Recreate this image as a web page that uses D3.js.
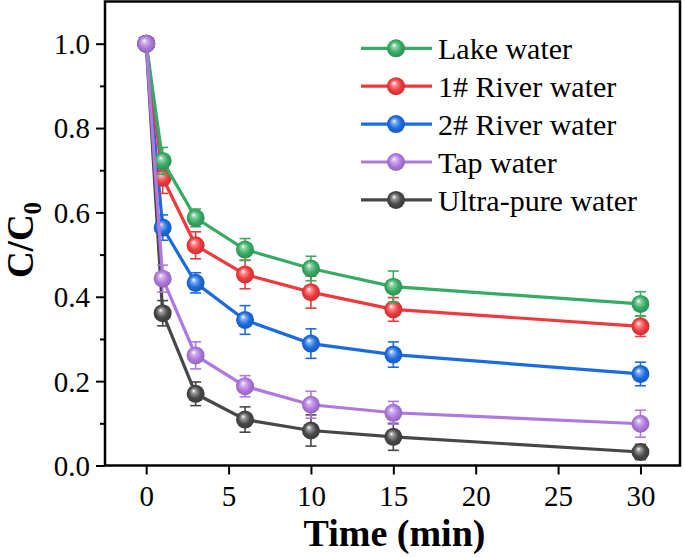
<!DOCTYPE html>
<html><head><meta charset="utf-8">
<script src="https://cdn.jsdelivr.net/npm/d3@7"></script>
<style>
html,body{margin:0;padding:0;background:#fff;}
svg{display:block;}
text{font-family:"Liberation Serif","Times New Roman",serif;}
</style></head>
<body>
<svg id="chart" width="685" height="558"></svg>
<script>
const times = [0, 1, 3, 6, 10, 15, 30];
const seriesNames = ["Lake water", "1# River water", "2# River water", "Tap water", "Ultra-pure water"];
const seriesColors = ["#35AB63", "#EF3A3D", "#1B6BE0", "#AE78DE", "#474747"];
const lakeVals   = [1.0, 0.722, 0.587, 0.512, 0.467, 0.424, 0.383];
const lakeErr    = [0, 0.032, 0.021, 0.026, 0.029, 0.037, 0.029];
const river1Vals = [1.0, 0.682, 0.522, 0.453, 0.411, 0.370, 0.330];
const river1Err  = [0, 0.037, 0.032, 0.034, 0.038, 0.028, 0.024];
const river2Vals = [1.0, 0.564, 0.433, 0.345, 0.289, 0.263, 0.217];
const river2Err  = [0, 0.030, 0.024, 0.034, 0.035, 0.030, 0.028];
const tapVals    = [1.0, 0.443, 0.261, 0.188, 0.144, 0.125, 0.099];
const tapErr     = [0, 0.032, 0.032, 0.025, 0.032, 0.027, 0.032];
const pureVals   = [1.0, 0.361, 0.170, 0.109, 0.083, 0.068, 0.032];
const pureErr    = [0, 0.030, 0.028, 0.030, 0.037, 0.032, 0.018];
const xTicks = [0, 5, 10, 15, 20, 25, 30];
const yTicks = [0.0, 0.2, 0.4, 0.6, 0.8, 1.0];
const yMinorTicks = [0.1, 0.3, 0.5, 0.7, 0.9];

const series = [
  {name: seriesNames[0], color: seriesColors[0], vals: lakeVals, err: lakeErr},
  {name: seriesNames[1], color: seriesColors[1], vals: river1Vals, err: river1Err},
  {name: seriesNames[2], color: seriesColors[2], vals: river2Vals, err: river2Err},
  {name: seriesNames[3], color: seriesColors[3], vals: tapVals, err: tapErr},
  {name: seriesNames[4], color: seriesColors[4], vals: pureVals, err: pureErr}
];
// drawing order (last on top)
const drawOrder = [4, 2, 1, 0, 3];

const L = 105, R = 680, T = 1.5, B = 465.5;
const svg = d3.select("#chart");
const x = d3.scaleLinear().domain([-2.5, 32.4]).range([L, R]);
const y = d3.scaleLinear().domain([0, 1.1]).range([B, T]);

// gradients
const defs = svg.append("defs");
series.forEach((s, i) => {
  const g = defs.append("radialGradient").attr("id", "g" + i)
    .attr("cx", "50%").attr("cy", "50%").attr("r", "55%")
    .attr("fx", "38%").attr("fy", "32%");
  const c = d3.color(s.color);
  g.append("stop").attr("offset", "0%").attr("stop-color", "#ffffff");
  g.append("stop").attr("offset", "22%").attr("stop-color", d3.interpolateRgb(s.color, "#fff")(0.45));
  g.append("stop").attr("offset", "60%").attr("stop-color", s.color);
  g.append("stop").attr("offset", "100%").attr("stop-color", c.darker(0.6).formatHex());
});

// axes
const yAxis = d3.axisLeft(y).tickValues(yTicks).tickSize(9).tickSizeOuter(0).tickPadding(6)
  .tickFormat(d3.format(".1f"));
const gy = svg.append("g").attr("transform", `translate(${L},0)`).call(yAxis);
gy.select(".domain").remove();
gy.selectAll("line").attr("stroke", "#000").attr("stroke-width", 2);
gy.selectAll("text").attr("font-size", 29).attr("fill", "#000").attr("dy", "0.34em");

const yMinor = d3.axisLeft(y).tickValues(yMinorTicks).tickSize(5).tickSizeOuter(0).tickFormat("");
const gym = svg.append("g").attr("transform", `translate(${L},0)`).call(yMinor);
gym.select(".domain").remove();
gym.selectAll("line").attr("stroke", "#000").attr("stroke-width", 2);

const xAxis = d3.axisBottom(x).tickValues(xTicks).tickSize(9).tickSizeOuter(0).tickPadding(11);
const gx = svg.append("g").attr("transform", `translate(0,${B})`).call(xAxis);
gx.select(".domain").remove();
gx.selectAll("line").attr("stroke", "#000").attr("stroke-width", 2);
gx.selectAll("text").attr("font-size", 29).attr("fill", "#000");

// frame
svg.append("rect").attr("x", L).attr("y", T).attr("width", R - L).attr("height", B - T)
  .attr("fill", "none").attr("stroke", "#000").attr("stroke-width", 2.5);

// axis titles
svg.append("text").attr("x", (L + R) / 2 + 2).attr("y", 546)
  .attr("text-anchor", "middle").attr("font-size", 38).attr("font-weight", "bold")
  .text("Time (min)");
const yt = svg.append("text").attr("transform", "translate(33,240) rotate(-90)")
  .attr("text-anchor", "middle").attr("font-size", 37).attr("font-weight", "bold");
yt.append("tspan").text("C/C");
yt.append("tspan").attr("font-size", 25).attr("dy", 8).text("0");

// series
const line = d3.line().x((d, i) => x(times[i])).y(d => y(d));
const plot = svg.append("g");
drawOrder.forEach(si => {
  const s = series[si];
  const g = plot.append("g");
  g.append("path").datum(s.vals).attr("d", line).attr("fill", "none")
    .attr("stroke", s.color).attr("stroke-width", 3.2);
  const eb = g.selectAll(".eb").data(s.vals.map((v, i) => ({t: times[i], v, e: s.err[i]})).filter(d => d.e > 0))
    .enter().append("g");
  eb.append("line").attr("x1", d => x(d.t)).attr("x2", d => x(d.t))
    .attr("y1", d => y(d.v + d.e)).attr("y2", d => y(d.v - d.e))
    .attr("stroke", s.color).attr("stroke-width", 1.6);
  eb.append("line").attr("x1", d => x(d.t) - 5.5).attr("x2", d => x(d.t) + 5.5)
    .attr("y1", d => y(d.v + d.e)).attr("y2", d => y(d.v + d.e))
    .attr("stroke", s.color).attr("stroke-width", 1.6);
  eb.append("line").attr("x1", d => x(d.t) - 5.5).attr("x2", d => x(d.t) + 5.5)
    .attr("y1", d => y(d.v - d.e)).attr("y2", d => y(d.v - d.e))
    .attr("stroke", s.color).attr("stroke-width", 1.6);
  g.selectAll("circle").data(s.vals).enter().append("circle")
    .attr("cx", (d, i) => x(times[i])).attr("cy", d => y(d)).attr("r", 9)
    .attr("fill", `url(#g${si})`);
});

// legend
const legY0 = 48.3, legDy = 37.9;
const leg = svg.append("g");
series.forEach((s, i) => {
  const cy = legY0 + i * legDy;
  leg.append("line").attr("x1", 361).attr("x2", 432).attr("y1", cy).attr("y2", cy)
    .attr("stroke", s.color).attr("stroke-width", 3.2);
  leg.append("circle").attr("cx", 396).attr("cy", cy).attr("r", 9).attr("fill", `url(#g${i})`);
  leg.append("text").attr("x", 438).attr("y", cy + 11).attr("font-size", 30).attr("fill", "#000").text(s.name);
});
</script>
</body></html>
